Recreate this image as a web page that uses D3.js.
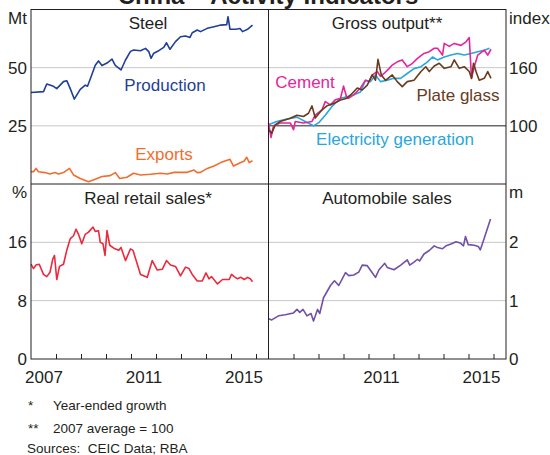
<!DOCTYPE html>
<html>
<head>
<meta charset="utf-8">
<script src="https://cdn.jsdelivr.net/npm/d3@7"></script>
<style>
  body { margin: 0; background: #fff; }
  text { font-family: "Liberation Sans", Arial, sans-serif; fill: #231f20; white-space: pre; }
</style>
</head>
<body>
<svg id="chart"></svg>
<script>
// series: [decimal year, value]
var steelProduction = [[2007.0,39.3],[2007.5,39.7],[2007.63,43],[2007.9,42],[2008.03,41],[2008.3,44],[2008.43,44.4],[2008.57,41],[2008.73,36.5],[2008.97,40.7],[2009.17,42.5],[2009.26,42],[2009.4,46],[2009.57,51],[2009.7,52.9],[2009.84,50.9],[2010.04,52],[2010.24,53.7],[2010.37,51],[2010.6,49],[2010.78,53.3],[2010.98,57],[2011.11,57.6],[2011.38,57.3],[2011.58,58.3],[2011.71,56.9],[2011.8,54],[2011.91,56.2],[2012.11,57.3],[2012.31,58.7],[2012.42,60.7],[2012.56,57.9],[2012.78,61.2],[2012.98,63.3],[2013.18,63.6],[2013.36,63],[2013.45,65],[2013.65,66.2],[2013.78,65.5],[2014.05,66.9],[2014.32,67.6],[2014.59,68.3],[2014.83,68.5],[2014.88,71.9],[2014.96,66.5],[2015.19,66.5],[2015.36,66.8],[2015.46,65.5],[2015.66,66.5],[2015.86,68.3]];
var steelExports = [[2007.0,5.3],[2007.1,5.3],[2007.2,6.7],[2007.3,5.3],[2007.56,4.9],[2007.76,4.3],[2007.96,4.9],[2008.1,4.3],[2008.3,4.9],[2008.54,6.7],[2008.7,3.9],[2008.97,2.4],[2009.3,1.0],[2009.57,2.0],[2009.84,3.2],[2010.17,3.6],[2010.37,4.9],[2010.55,2.4],[2010.84,2.9],[2011.1,4.6],[2011.38,3.9],[2011.78,4.2],[2012.18,4.6],[2012.45,4.3],[2012.72,5.0],[2013.25,5.0],[2013.52,6.0],[2013.65,4.9],[2013.78,5.0],[2014.05,6.7],[2014.32,7.7],[2014.59,9.2],[2014.96,10.6],[2015.1,7.7],[2015.33,8.9],[2015.53,9.9],[2015.63,11.5],[2015.73,9.2],[2015.86,10.0]];

var cement = [[2007.0,103],[2007.1,88],[2007.2,100],[2007.47,103],[2007.87,103],[2008.0,96],[2008.07,104.5],[2008.4,103],[2008.74,104.5],[2008.87,111],[2009.14,116.5],[2009.27,125],[2009.48,121.6],[2009.68,127],[2009.88,128.5],[2010.0,141],[2010.12,130],[2010.21,128.5],[2010.41,132],[2010.68,139],[2010.88,147],[2011.02,145.6],[2011.15,152.5],[2011.35,156],[2011.48,151],[2011.62,154],[2011.82,159],[2011.95,162.7],[2012.15,166],[2012.35,168],[2012.55,161],[2012.76,164.5],[2012.96,169.6],[2013.22,174.7],[2013.43,176.5],[2013.63,180],[2013.76,180],[2013.96,173],[2014.03,185],[2014.23,182],[2014.43,185],[2014.7,183],[2014.9,186.7],[2015.03,191],[2015.12,149],[2015.23,161],[2015.37,173],[2015.63,178],[2015.77,173],[2015.9,179]];
var electricity = [[2007.0,101],[2007.33,104.5],[2007.74,107],[2008.14,109],[2008.54,103.4],[2008.8,100],[2009.0,103],[2009.27,111],[2009.54,120],[2009.88,128.5],[2010.14,130],[2010.41,132],[2010.68,135],[2010.88,147],[2011.08,145.6],[2011.28,152.5],[2011.48,145.6],[2011.75,147],[2012.0,149],[2012.28,149],[2012.55,154],[2012.82,159],[2013.1,161],[2013.36,166],[2013.56,171],[2013.76,168],[2014.03,171],[2014.3,173],[2014.56,174.7],[2014.83,173],[2015.1,174.7],[2015.37,176.5],[2015.63,178],[2015.84,180]];
var plateGlass = [[2007.0,96],[2007.13,92.5],[2007.27,101],[2007.47,104.5],[2007.87,107.9],[2008.14,111],[2008.4,109.6],[2008.6,113],[2008.74,120.6],[2008.87,108],[2009.14,116.5],[2009.34,120.6],[2009.61,123],[2009.88,126.7],[2010.14,128.5],[2010.35,133.6],[2010.55,139],[2010.75,137],[2010.95,142],[2011.15,152.5],[2011.28,147],[2011.38,168.6],[2011.51,152.5],[2011.68,147],[2011.95,152.5],[2012.15,145.6],[2012.35,140.5],[2012.55,145.6],[2012.82,147],[2013.1,156],[2013.29,161],[2013.43,156],[2013.63,161.7],[2013.83,164.5],[2014.03,159.3],[2014.3,161],[2014.43,168],[2014.63,159.3],[2014.83,161],[2015.03,156],[2015.12,149],[2015.2,164.5],[2015.3,156],[2015.43,147],[2015.63,149],[2015.77,156],[2015.9,149]];

var retailSales = [[2007.0,13.0],[2007.1,12.4],[2007.2,12.9],[2007.33,13.0],[2007.5,11.6],[2007.63,11.3],[2007.76,11.9],[2007.87,13.7],[2007.94,14.2],[2008.03,10.9],[2008.14,12.7],[2008.3,13.0],[2008.43,14.9],[2008.57,16.5],[2008.7,16.9],[2008.8,17.8],[2008.9,17.1],[2009.03,15.8],[2009.17,17.1],[2009.3,17.4],[2009.48,18.1],[2009.57,17.5],[2009.7,17.6],[2009.77,16.0],[2009.88,15.8],[2009.96,14.2],[2010.04,17.6],[2010.15,15.6],[2010.31,15.2],[2010.51,14.9],[2010.6,15.3],[2010.78,13.5],[2010.98,15.1],[2011.08,14.9],[2011.38,11.6],[2011.65,11.2],[2011.85,13.5],[2012.05,12.2],[2012.25,12.3],[2012.42,13.5],[2012.58,12.9],[2012.78,12.7],[2012.98,11.4],[2013.18,12.6],[2013.32,12.4],[2013.45,11.6],[2013.65,10.7],[2013.85,10.7],[2014.0,11.8],[2014.12,11.0],[2014.22,11.3],[2014.46,10.3],[2014.66,10.9],[2014.93,10.9],[2015.02,11.6],[2015.13,11.3],[2015.26,11.0],[2015.4,11.2],[2015.53,10.9],[2015.66,11.2],[2015.77,11.0],[2015.86,10.6]];
var autoSales = [[2007.0,0.69],[2007.13,0.67],[2007.4,0.74],[2007.67,0.76],[2008.0,0.79],[2008.14,0.85],[2008.25,0.80],[2008.38,0.85],[2008.54,0.74],[2008.7,0.78],[2008.8,0.65],[2008.96,0.85],[2009.05,0.78],[2009.2,1.05],[2009.48,1.26],[2009.64,1.34],[2009.81,1.26],[2010.08,1.48],[2010.21,1.43],[2010.41,1.44],[2010.61,1.49],[2010.75,1.61],[2010.95,1.60],[2011.15,1.48],[2011.28,1.40],[2011.42,1.53],[2011.65,1.64],[2011.75,1.57],[2012.02,1.53],[2012.29,1.61],[2012.55,1.70],[2012.65,1.61],[2012.82,1.66],[2012.96,1.71],[2013.04,1.68],[2013.22,1.80],[2013.43,1.86],[2013.63,1.94],[2013.76,1.91],[2013.96,1.89],[2014.1,1.94],[2014.3,1.97],[2014.5,2.01],[2014.67,1.99],[2014.8,1.94],[2014.88,2.10],[2014.99,1.96],[2015.23,1.95],[2015.39,1.93],[2015.47,1.87],[2015.6,2.03],[2015.88,2.40]];

var leftYearLabels = [2007, 2011, 2015];
var rightYearLabels = [2011, 2015];
var yearTicks = [2008, 2009, 2010, 2011, 2012, 2013, 2014, 2015, 2016];

var W = 550, H = 455;
var L = 31, V = 268.5, R = 506, T = 9.5, M = 184, B = 359;

var svg = d3.select("#chart").attr("width", W).attr("height", H);

var xLeft = d3.scaleLinear().domain([2007, 2016.5]).range([L, V]);
var xRight = d3.scaleLinear().domain([2007, 2016.5]).range([V, R]);

var ySteel = d3.scaleLinear().domain([0, 75]).range([M, T]);
var yGross = d3.scaleLinear().domain([40, 220]).range([M, T]);
var yRetail = d3.scaleLinear().domain([0, 24]).range([B, M]);
var yAuto = d3.scaleLinear().domain([0, 3]).range([B, M]);

//Light gridlines for each panel.
function grid(x, y, vals, color) {
  svg.append("g").selectAll("line").data(vals).enter().append("line")
    .attr("x1", x.range()[0]).attr("x2", x.range()[1])
    .attr("y1", d => y(d)).attr("y2", d => y(d))
    .attr("stroke", color).attr("stroke-width", 1);
}
grid(xLeft, ySteel, [25, 50], "#c8c8c8");
grid(xRight, yGross, [160], "#c8c8c8");
grid(xLeft, yRetail, [8, 16], "#c8c8c8");
grid(xRight, yAuto, [1, 2], "#c8c8c8");
grid(xRight, yGross, [100], "#231f20");

function series(data, x, y, color) {
  var line = d3.line().x(d => x(d[0])).y(d => y(d[1]));
  svg.append("path").datum(data)
    .attr("d", line)
    .attr("fill", "none")
    .attr("stroke", color)
    .attr("stroke-width", 1.6)
    .attr("stroke-linejoin", "round");
}
series(steelExports, xLeft, ySteel, "#f26d2d");
series(steelProduction, xLeft, ySteel, "#1f3f98");
series(electricity, xRight, yGross, "#27a6df");
series(cement, xRight, yGross, "#e2269b");
series(plateGlass, xRight, yGross, "#6a3a1c");
series(retailSales, xLeft, yRetail, "#ea2a3d");
series(autoSales, xRight, yAuto, "#7150a6");

//Frame and panel dividers.
var frame = svg.append("g").attr("stroke", "#231f20").attr("stroke-width", 1).attr("fill", "none");
frame.append("rect").attr("x", L).attr("y", T).attr("width", R - L).attr("height", B - T);
frame.append("line").attr("x1", V).attr("x2", V).attr("y1", T).attr("y2", B);
frame.append("line").attr("x1", L).attr("x2", R).attr("y1", M).attr("y2", M);

//Year ticks pointing up from the bottom axis.
[xLeft, xRight].forEach(x => {
  var ax = svg.append("g").attr("transform", "translate(0," + B + ")")
    .call(d3.axisBottom(x).tickValues(yearTicks).tickSizeInner(-5).tickSizeOuter(0).tickFormat(""));
  ax.select(".domain").remove();
  ax.selectAll("line").attr("stroke", "#231f20");
});

//Year labels centred within each year.
function yearLabels(x, years) {
  var ax = svg.append("g").attr("transform", "translate(0," + B + ")")
    .call(d3.axisBottom(x).tickValues(years.map(y => y + 0.5)).tickSize(0).tickFormat(d => Math.floor(d)));
  ax.select(".domain").remove();
  ax.selectAll("text").attr("font-size", 17).attr("font-family", null).attr("fill", "#231f20").attr("dy", "1.25em");
}
yearLabels(xLeft, leftYearLabels);
yearLabels(xRight, rightYearLabels);

function yLabels(axis, y, vals, xPos) {
  var ax = svg.append("g").attr("transform", "translate(" + xPos + ",0)")
    .call(axis(y).tickValues(vals).tickSize(0).tickPadding(0).tickFormat(d3.format("d")));
  ax.select(".domain").remove();
  ax.selectAll("text").attr("font-size", 17).attr("font-family", null).attr("fill", "#231f20");
}
yLabels(d3.axisLeft, ySteel, [25, 50], 27);
yLabels(d3.axisLeft, yRetail, [0, 8, 16], 27);
yLabels(d3.axisRight, yGross, [100, 160], 509);
yLabels(d3.axisRight, yAuto, [0, 1, 2], 509);

function label(txt, x, y, anchor, color, size, weight) {
  svg.append("text").text(txt)
    .attr("x", x).attr("y", y)
    .attr("text-anchor", anchor)
    .attr("font-size", size || 17)
    .attr("font-weight", weight || "normal")
    .style("fill", color || "#231f20");
}
label("China – Activity Indicators", 268, 4, "middle", "#231f20", 24, "bold");
label("Mt", 27, 24, "end");
label("index", 509, 24, "start");
label("%", 27, 198, "end");
label("m", 509, 198, "start");

label("Steel", 148, 29, "middle");
label("Gross output**", 387, 29, "middle");
label("Real retail sales*", 148, 204, "middle");
label("Automobile sales", 387, 204, "middle");

label("Production", 165, 91, "middle", "#1f3f98");
label("Exports", 164, 160, "middle", "#f26d2d");
label("Cement", 305, 88, "middle", "#e2269b");
label("Plate glass", 458, 101, "middle", "#6a3a1c");
label("Electricity generation", 395, 145, "middle", "#27a6df");

label("*", 28, 410, "start", "#231f20", 13.5);
label("Year-ended growth", 53, 410, "start", "#231f20", 13.5);
label("**", 28, 433, "start", "#231f20", 13.5);
label("2007 average = 100", 53, 433, "start", "#231f20", 13.5);
label("Sources:  CEIC Data; RBA", 27, 453, "start", "#231f20", 13.5);
</script>
</body>
</html>
